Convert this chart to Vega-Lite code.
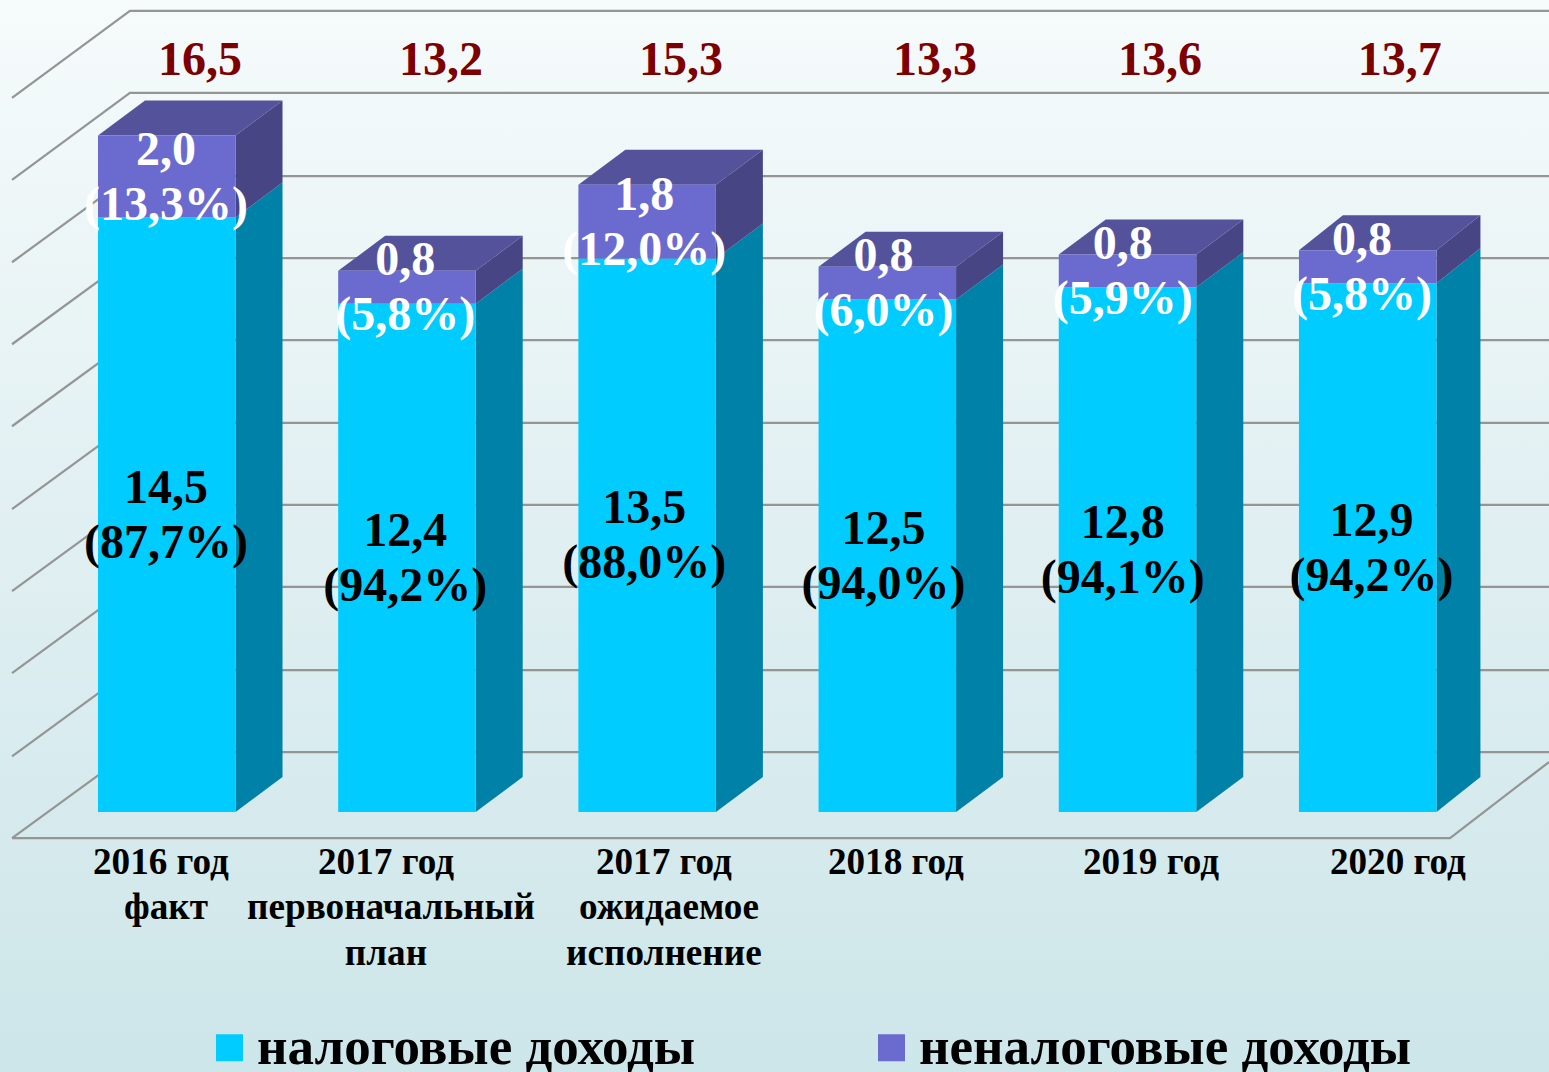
{
"$schema":"https://vega.github.io/schema/vega-lite/v6.json",
"width":1549,"height":1072,"padding":0,"autosize":{"type":"none"},
"background":"#e4f1f3",
"config":{"view":{"stroke":null},"font":"Liberation Serif"},
"datasets":{
"revenue":[
{"order":0,"category":"2016 год факт","series":"налоговые доходы","value":14.5,"valueText":"14,5","shareText":"(87,7%)"},
{"order":0,"category":"2016 год факт","series":"неналоговые доходы","value":2.0,"valueText":"2,0","shareText":"(13,3%)"},
{"order":1,"category":"2017 год первоначальный план","series":"налоговые доходы","value":12.4,"valueText":"12,4","shareText":"(94,2%)"},
{"order":1,"category":"2017 год первоначальный план","series":"неналоговые доходы","value":0.8,"valueText":"0,8","shareText":"(5,8%)"},
{"order":2,"category":"2017 год ожидаемое исполнение","series":"налоговые доходы","value":13.5,"valueText":"13,5","shareText":"(88,0%)"},
{"order":2,"category":"2017 год ожидаемое исполнение","series":"неналоговые доходы","value":1.8,"valueText":"1,8","shareText":"(12,0%)"},
{"order":3,"category":"2018 год","series":"налоговые доходы","value":12.5,"valueText":"12,5","shareText":"(94,0%)"},
{"order":3,"category":"2018 год","series":"неналоговые доходы","value":0.8,"valueText":"0,8","shareText":"(6,0%)"},
{"order":4,"category":"2019 год","series":"налоговые доходы","value":12.8,"valueText":"12,8","shareText":"(94,1%)"},
{"order":4,"category":"2019 год","series":"неналоговые доходы","value":0.8,"valueText":"0,8","shareText":"(5,9%)"},
{"order":5,"category":"2020 год","series":"налоговые доходы","value":12.9,"valueText":"12,9","shareText":"(94,2%)"},
{"order":5,"category":"2020 год","series":"неналоговые доходы","value":0.8,"valueText":"0,8","shareText":"(5,8%)"}
],
"totals":[
{"slot":0.425,"level":18.34,"total":"16,5"},
{"slot":1.428,"level":18.34,"total":"13,2"},
{"slot":2.427,"level":18.34,"total":"15,3"},
{"slot":3.485,"level":18.34,"total":"13,3"},
{"slot":4.421,"level":18.34,"total":"13,6"},
{"slot":5.42,"level":18.34,"total":"13,7"}
],
"categoryLabels":[
{"text":"2016 год","slot":0.262,"level":-1.244},
{"text":"факт","slot":0.283,"level":-2.34},
{"text":"2017 год","slot":1.199,"level":-1.244},
{"text":"первоначальный","slot":1.22,"level":-2.34},
{"text":"план","slot":1.199,"level":-3.46},
{"text":"2017 год","slot":2.356,"level":-1.244},
{"text":"ожидаемое","slot":2.377,"level":-2.34},
{"text":"исполнение","slot":2.356,"level":-3.46},
{"text":"2018 год","slot":3.322,"level":-1.244},
{"text":"2019 год","slot":4.384,"level":-1.244},
{"text":"2020 год","slot":5.412,"level":-1.244}
],
"grid":[
{"id":"l9","gx":-0.358,"gy":17.42},{"id":"l9","gx":0.133,"gy":19.54},{"id":"l9","gx":6.041,"gy":19.54},
{"id":"l8","gx":-0.358,"gy":15.42},{"id":"l8","gx":0.133,"gy":17.54},{"id":"l8","gx":6.041,"gy":17.54},
{"id":"l7","gx":-0.358,"gy":13.41},{"id":"l7","gx":0.133,"gy":15.51},{"id":"l7","gx":6.041,"gy":15.51},
{"id":"l6","gx":-0.358,"gy":11.41},{"id":"l6","gx":0.133,"gy":13.51},{"id":"l6","gx":6.041,"gy":13.51},
{"id":"l5","gx":-0.358,"gy":9.41},{"id":"l5","gx":0.133,"gy":11.51},{"id":"l5","gx":6.041,"gy":11.51},
{"id":"l4","gx":-0.358,"gy":7.39},{"id":"l4","gx":0.133,"gy":9.49},{"id":"l4","gx":6.041,"gy":9.49},
{"id":"l3","gx":-0.358,"gy":5.39},{"id":"l3","gx":0.133,"gy":7.49},{"id":"l3","gx":6.041,"gy":7.49},
{"id":"l2","gx":-0.358,"gy":3.39},{"id":"l2","gx":0.133,"gy":5.49},{"id":"l2","gx":6.041,"gy":5.49},
{"id":"l1","gx":-0.358,"gy":1.36},{"id":"l1","gx":0.133,"gy":3.46},{"id":"l1","gx":6.041,"gy":3.46},
{"id":"l0","gx":-0.358,"gy":-0.634},{"id":"l0","gx":0.133,"gy":1.46},{"id":"l0","gx":6.041,"gy":1.46},
{"id":"floor","gx":-0.358,"gy":-0.634},{"id":"floor","gx":5.629,"gy":-0.634},{"id":"floor","gx":6.041,"gy":1.22}
],
"backdrop":[{"x0":-0.408,"x1":6.041,"y0":-6.34,"y1":19.806}]
},
"layer":[
{"data":{"name":"backdrop"},
 "mark":{"type":"rect","fill":{"gradient":"linear","x1":0,"y1":0,"x2":0,"y2":1,"stops":[{"offset":0,"color":"#f6fbfb"},{"offset":0.5,"color":"#e0eff2"},{"offset":1,"color":"#cde6e9"}]}},
 "encoding":{"x":{"field":"x0","type":"quantitative","axis":null,"scale":{"domain":[-0.408,6.041],"nice":false,"zero":false}},"x2":{"field":"x1"},"y":{"field":"y0","type":"quantitative","axis":null,"scale":{"domain":[-6.34,19.806],"nice":false,"zero":false}},"y2":{"field":"y1"}}},
{"data":{"name":"grid"},
 "mark":{"type":"line","stroke":"#959595","strokeWidth":2.2},
 "encoding":{"x":{"field":"gx","type":"quantitative"},"y":{"field":"gy","type":"quantitative"},"detail":{"field":"id"}}},
{"data":{"name":"revenue"},
 "transform":[
  {"stack":"value","groupby":["order"],"sort":[{"field":"series"}],"as":["low","high"]},
  {"calculate":"[0,1]","as":"edge"},{"flatten":["edge"]},
  {"calculate":"datum.order+0.5725+datum.edge*(datum.order==5?0.183:0.1957)","as":"sx"},
  {"calculate":"datum.low+datum.edge*0.854","as":"sl"},
  {"calculate":"datum.high+datum.edge*0.854","as":"sh"},
  {"filter":"datum.series==='налоговые доходы'"}],
 "mark":{"type":"area","fill":"#0082a8","opacity":1},
 "encoding":{"x":{"field":"sx","type":"quantitative"},"y":{"field":"sl","type":"quantitative"},"y2":{"field":"sh"},"detail":{"field":"order"}}},
{"data":{"name":"revenue"},
 "transform":[
  {"stack":"value","groupby":["order"],"sort":[{"field":"series"}],"as":["low","high"]},
  {"calculate":"[0,1]","as":"edge"},{"flatten":["edge"]},
  {"calculate":"datum.order+0.5725+datum.edge*(datum.order==5?0.183:0.1957)","as":"sx"},
  {"calculate":"datum.low+datum.edge*0.854","as":"sl"},
  {"calculate":"datum.high+datum.edge*0.854","as":"sh"},
  {"filter":"datum.series==='неналоговые доходы'"}],
 "mark":{"type":"area","fill":"#484585","opacity":1},
 "encoding":{"x":{"field":"sx","type":"quantitative"},"y":{"field":"sl","type":"quantitative"},"y2":{"field":"sh"},"detail":{"field":"order"}}},
{"data":{"name":"revenue"},
 "transform":[
  {"stack":"value","groupby":["order"],"sort":[{"field":"series"}],"as":["low","high"]},
  {"filter":"datum.series==='неналоговые доходы'"},
  {"calculate":"[0,1]","as":"edge"},{"flatten":["edge"]},
  {"calculate":"datum.order+datum.edge*(datum.order==5?0.183:0.1957)","as":"tl"},
  {"calculate":"datum.order+0.5725+datum.edge*(datum.order==5?0.183:0.1957)","as":"tr"},
  {"calculate":"datum.high+datum.edge*0.854","as":"ty"}],
 "mark":{"type":"area","orient":"horizontal","fill":"#55529c","opacity":1},
 "encoding":{"y":{"field":"ty","type":"quantitative"},"x":{"field":"tl","type":"quantitative"},"x2":{"field":"tr"},"detail":{"field":"order"}}},
{"data":{"name":"revenue"},
 "transform":[
  {"stack":"value","groupby":["order"],"sort":[{"field":"series"}],"as":["low","high"]},
  {"calculate":"datum.order+0.5725","as":"right"}],
 "mark":{"type":"rect","opacity":1},
 "encoding":{
  "x":{"field":"order","type":"quantitative"},"x2":{"field":"right"},
  "y":{"field":"low","type":"quantitative"},"y2":{"field":"high"},
  "color":{"field":"series","type":"nominal","scale":{"domain":["налоговые доходы","неналоговые доходы"],"range":["#00ccff","#6b6bcf"]},
   "legend":{"title":null,"orient":"none","legendX":203,"legendY":1021,"direction":"horizontal","symbolType":"square","symbolSize":729,"symbolOpacity":1,"symbolStrokeWidth":0,"labelFont":"Liberation Serif","labelFontWeight":"bold","labelFontSize":53,"labelColor":"#000000","labelLimit":0,"labelOffset":1,"columnPadding":169,"padding":0,"rowPadding":0}}}},
{"data":{"name":"revenue"},
 "transform":[
  {"stack":"value","groupby":["order"],"sort":[{"field":"series"}],"as":["low","high"]},
  {"calculate":"(datum.low+datum.high)/2","as":"mid"},
  {"calculate":"datum.order*0.9958+0.283+(datum.order==5&&datum.series==='налоговые доходы'?0.04:0)","as":"cx"}],
 "mark":{"type":"text","font":"Liberation Serif","fontWeight":"bold","fontSize":48,"baseline":"middle","align":"center","yOffset":-26},
 "encoding":{"x":{"field":"cx","type":"quantitative"},"y":{"field":"mid","type":"quantitative"},"text":{"field":"valueText"},
  "color":{"condition":{"test":"datum.series==='неналоговые доходы'","value":"#ffffff"},"value":"#000000"}}},
{"data":{"name":"revenue"},
 "transform":[
  {"stack":"value","groupby":["order"],"sort":[{"field":"series"}],"as":["low","high"]},
  {"calculate":"(datum.low+datum.high)/2","as":"mid"},
  {"calculate":"datum.order*0.9958+0.283+(datum.order==5&&datum.series==='налоговые доходы'?0.04:0)","as":"cx"}],
 "mark":{"type":"text","font":"Liberation Serif","fontWeight":"bold","fontSize":48,"baseline":"middle","align":"center","yOffset":29},
 "encoding":{"x":{"field":"cx","type":"quantitative"},"y":{"field":"mid","type":"quantitative"},"text":{"field":"shareText"},
  "color":{"condition":{"test":"datum.series==='неналоговые доходы'","value":"#ffffff"},"value":"#000000"}}},
{"data":{"name":"totals"},
 "mark":{"type":"text","font":"Liberation Serif","fontWeight":"bold","fontSize":48,"baseline":"middle","align":"center","color":"#7c0000","yOffset":1},
 "encoding":{"x":{"field":"slot","type":"quantitative"},"y":{"field":"level","type":"quantitative"},"text":{"field":"total"}}},
{"data":{"name":"categoryLabels"},
 "mark":{"type":"text","font":"Liberation Serif","fontWeight":"bold","fontSize":37.2,"baseline":"middle","align":"center","color":"#000000"},
 "encoding":{"x":{"field":"slot","type":"quantitative"},"y":{"field":"level","type":"quantitative"},"text":{"field":"text"}}}
]
}
